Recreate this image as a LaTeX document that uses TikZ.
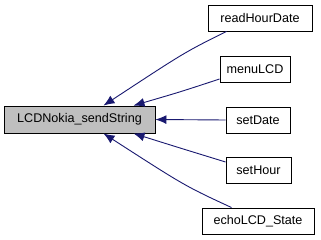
\documentclass[tikz,border=0pt]{standalone}
\usepackage{fontspec}
\setmainfont{Liberation Sans}
\usetikzlibrary{arrows.meta}
\definecolor{edgeblue}{RGB}{25,25,112}
\definecolor{nodegray}{RGB}{191,191,191}

\begin{document}
\begin{tikzpicture}[x=1pt,y=-1pt]
\tikzset{fn/.style={draw=black,fill=white,line width=0.9pt,minimum height=26pt,inner sep=0pt,font=\fontsize{12.6}{15}\selectfont}}
\tikzset{call/.style={draw=edgeblue,line width=0.9pt,-{Latex[length=11pt,width=9pt]}}}
\useasboundingbox (0,0) rectangle (321,240);
% the function that is called
\node [fn,fill=nodegray,minimum width=151pt,minimum height=27pt] (sendString) at (79.5,119.5) {LCDNokia\_sendString};
% its callers
\node [fn,minimum width=104pt] (readHourDate) at (260,18) {readHourDate};
\node [fn,minimum width=70pt] (menuLCD) at (255,69) {menuLCD};
\node [fn,minimum width=64pt] (setDate) at (258,120) {setDate};
\node [fn,minimum width=65pt] (setHour) at (258.5,170) {setHour};
\node [fn,minimum width=112pt] (echoLCD) at (258,221) {echoLCD\_State};
% calls
\draw [call] ([xshift=19pt]readHourDate.south west) .. controls (185,52) .. ([xshift=24pt]sendString.north);
\draw [call] ([yshift=-10pt]menuLCD.west) .. controls (180,92) .. ([xshift=54pt]sendString.north);
\draw [call] (setDate.west) -- (sendString.east);
\draw [call] ([yshift=8pt]setHour.west) .. controls (180,148) .. ([xshift=54pt]sendString.south);
\draw [call] ([xshift=30pt]echoLCD.north west) .. controls (185,186) .. ([xshift=24pt]sendString.south);
\end{tikzpicture}
\end{document}
